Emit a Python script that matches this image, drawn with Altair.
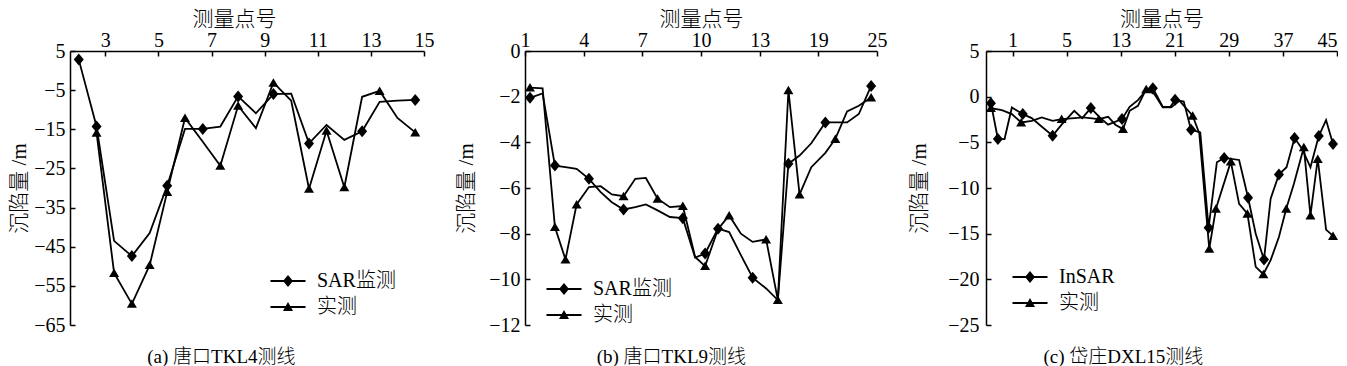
import json
import altair as alt
import pandas as pd

FONT = "Liberation Serif, Noto Sans CJK SC"

# ---------------- panel (a) 唐口TKL4测线 ----------------
a_names = ["SAR监测", "实测"]
a_sar_x = [2.0, 2.67, 3.33, 4.0, 4.67, 5.33, 6.0, 6.67, 7.33, 8.0, 8.67, 9.33, 10.0, 10.67, 11.33, 12.0, 12.67, 13.33, 14.0, 14.67]
a_sar_y = [2.8, -14.3, -43.5, -47.4, -41.5, -29.4, -14.9, -14.9, -14.3, -6.6, -10.9, -6.0, -5.9, -18.6, -13.9, -17.7, -15.5, -8.0, -7.7, -7.5]
a_sar_m = [1, 1, 0, 1, 0, 1, 0, 1, 0, 1, 0, 1, 0, 1, 0, 0, 1, 0, 0, 1]
a_meas_x = [2.67, 3.33, 4.0, 4.67, 5.33, 6.0, 6.67, 7.33, 8.0, 8.67, 9.33, 10.0, 10.67, 11.33, 12.0, 12.67, 13.33, 14.0, 14.67]
a_meas_y = [-15.9, -51.7, -59.6, -49.7, -31.0, -12.1, -18.2, -24.3, -9.0, -14.7, -3.1, -7.7, -30.2, -15.4, -29.8, -6.7, -5.2, -12.1, -15.8]
a_meas_m = [1, 1, 1, 1, 1, 1, 0, 1, 1, 0, 1, 0, 1, 1, 1, 0, 1, 0, 1]
a_xticks = [3, 5, 7, 9, 11, 13, 15]
a_yticks = [5, -5, -15, -25, -35, -45, -55, -65]

# ---------------- panel (b) 唐口TKL9测线 ----------------
b_names = ["SAR监测", "实测"]
b_x = [0.085, 0.30, 0.51, 0.69, 0.88, 1.09, 1.29, 1.48, 1.68, 1.88, 2.06, 2.26, 2.47, 2.69, 2.90,
       3.07, 3.29, 3.48, 3.68, 3.88, 4.11, 4.31, 4.49, 4.68, 4.88, 5.12, 5.29, 5.49, 5.69, 5.90]
b_sar_y = [-2.05, -1.86, -5.02, -5.09, -5.16, -5.6, -6.18, -6.62, -6.94, -6.84, -6.72, -6.98, -7.27, -7.32, -9.05,
           -8.87, -7.78, -7.93, -8.94, -9.93, -10.4, -10.91, -4.94, -4.58, -4.04, -3.13, -3.13, -3.13, -2.76, -1.53]
b_sar_m = [1, 0, 1, 0, 0, 1, 0, 0, 1, 0, 0, 0, 0, 1, 0, 1, 1, 0, 0, 1, 0, 0, 1, 0, 0, 1, 0, 0, 0, 1]
b_meas_y = [-1.60, -1.64, -7.71, -9.13, -6.72, -5.96, -5.92, -6.28, -6.36, -5.6, -5.56, -6.47, -6.84, -6.79, -9.02,
            -9.42, -7.8, -7.2, -8.0, -8.36, -8.25, -10.91, -1.72, -6.28, -5.09, -4.46, -3.85, -2.65, -2.4, -2.04]
b_meas_m = [1, 0, 1, 1, 1, 0, 0, 0, 1, 0, 0, 1, 0, 1, 0, 1, 0, 1, 0, 0, 1, 1, 1, 1, 0, 0, 1, 0, 0, 1]
b_xlabels = ["1", "4", "7", "10", "13", "19", "25"]
b_yticks = [0, -2, -4, -6, -8, -10, -12]

# ---------------- panel (c) 岱庄DXL15测线 ----------------
c_names = ["InSAR", "实测"]
c_sar_x = [-0.399, -0.270, -0.147, -0.012, 0.190, 0.356, 0.521, 0.742, 0.908, 1.141, 1.288, 1.448, 1.613, 1.767,
           2.025, 2.166, 2.319, 2.472, 2.595, 2.779, 2.920, 3.006, 3.166, 3.301, 3.472, 3.626, 3.779, 3.914,
           4.190, 4.356, 4.497, 4.650, 4.773, 4.926, 5.067, 5.215, 5.356, 5.509, 5.663, 5.798, 5.926]
c_sar_y = [-0.71, -4.64, -4.64, -1.18, -1.91, -2.35, -3.18, -4.27, -3.07, -1.55, -2.35, -1.25, -2.27, -3.07,
           -2.45, -1.11, -0.38, 0.71, 0.93, -1.11, -1.11, -0.35, -0.53, -3.62, -3.91, -14.35, -7.18, -6.71,
           -6.93, -11.07, -15.0, -17.84, -11.18, -8.53, -7.73, -4.53, -5.73, -7.73, -4.31, -2.56, -5.18]
c_sar_m = [1, 1, 0, 0, 1, 0, 0, 1, 0, 0, 0, 1, 0, 0, 1, 0, 0, 0, 1, 0, 0, 1, 0, 1, 0, 1, 0, 1, 0, 1, 0, 1, 0, 1,
           0, 1, 0, 0, 1, 0, 1]
c_meas_x = [-0.399, -0.196, -0.012, 0.160, 0.356, 0.540, 0.742, 0.908, 1.141, 1.307, 1.595, 1.767, 1.902, 2.043,
            2.166, 2.319, 2.472, 2.626, 2.779, 2.933, 3.086, 3.331, 3.454, 3.638, 3.761, 4.037, 4.190, 4.344,
            4.497, 4.638, 4.773, 4.926, 5.061, 5.202, 5.387, 5.509, 5.644, 5.798, 5.926]
c_meas_y = [-1.25, -1.47, -1.91, -2.82, -2.64, -2.27, -2.64, -2.45, -2.35, -2.27, -2.45, -2.2, -3.07, -3.55,
            -1.55, -1.0, 0.82, 0.27, -1.18, -1.18, -0.45, -2.09, -4.02, -16.64, -12.27, -7.11, -11.73, -12.82,
            -18.64, -19.44, -17.9, -15.36, -12.27, -9.55, -5.55, -13.0, -6.82, -14.56, -15.25]
c_meas_m = [1, 0, 0, 1, 0, 0, 0, 1, 0, 0, 1, 0, 0, 1, 0, 0, 1, 0, 0, 0, 0, 1, 0, 1, 1, 1, 0, 1, 0, 1, 0, 0, 1, 0,
            1, 1, 1, 0, 1]
c_xlabels = ["1", "5", "13", "21", "29", "37", "45"]
c_yticks = [5, 0, -5, -10, -15, -20, -25]

DIAMOND = "M0,-1.2L1,0L0,1.2L-1,0Z"
TRIANGLE = "M0,-0.9L1,0.8L-1,0.8Z"
# legend symbols: a thin filled bar (the line) plus the marker
LEG_D = "M-1.75,-0.09L1.75,-0.09L1.75,0.09L-1.75,0.09Z M0,-0.6L0.5,0L0,0.6L-0.5,0Z"
LEG_T = "M-1.75,-0.09L1.75,-0.09L1.75,0.09L-1.75,0.09Z M0,-0.5L0.5,0.4L-0.5,0.4Z"

H = 274


def panel(sx, sy, sm, mx, my, mm, names, xdomain, xticks, xlabels, ydomain, yticks,
          width, title, legxy, ytp, ylp, xtitle_x=None, flush=False):
    rows = []
    for x, y, m in zip(sx, sy, sm):
        rows.append({"x": x, "y": y, "s": names[0], "m": m})
    for x, y, m in zip(mx, my, mm):
        rows.append({"x": x, "y": y, "s": names[1], "m": m})
    df = pd.DataFrame(rows)
    base = alt.Chart(df)
    xs = alt.Scale(domain=xdomain, nice=False, zero=False)
    ys = alt.Scale(domain=ydomain, nice=False, zero=False)

    xkw = dict(orient="top", values=xticks, title="测量点号", titleFont=FONT, titleFontSize=21,
               titleFontWeight=300, titleColor="black", titlePadding=1,
               labelFont=FONT, labelFontSize=20, labelColor="black", labelPadding=1,
               ticks=False, tickSize=0, domainColor="black", domainWidth=1.5, grid=False,
               labelAngle=0, labelOverlap=False, labelFlush=flush)
    if xlabels is not None:
        xkw["labelExpr"] = json.dumps(xlabels) + "[round(datum.value)]"
    if xtitle_x is not None:
        xkw["titleX"] = xtitle_x
    main_x = alt.Axis(**xkw)
    main_y = alt.Axis(orient="left", values=yticks, title="沉陷量 /m", titleFont=FONT, titleFontSize=21,
                      titleFontWeight=300, titleColor="black", titlePadding=ytp,
                      labelFont=FONT, labelFontSize=20, labelColor="black", labelPadding=ylp,
                      ticks=False, tickSize=0, domainColor="black", domainWidth=1.5, grid=False,
                      labelOverlap=False)
    tick_x = alt.Axis(orient="top", values=xticks, labels=False, domain=False, title=None, ticks=True,
                      tickSize=5, tickColor="black", tickWidth=1.5, offset=-5, grid=False)
    tick_y = alt.Axis(orient="left", values=yticks, labels=False, domain=False, title=None, ticks=True,
                      tickSize=5, tickColor="black", tickWidth=1.5, offset=-5, grid=False)

    lines = base.mark_line(color="black", strokeWidth=1.8).encode(
        x=alt.X("x:Q", scale=xs, axis=main_x),
        y=alt.Y("y:Q", scale=ys, axis=main_y),
        detail="s:N",
    )
    p_sar = base.transform_filter((alt.datum.m == 1) & (alt.datum.s == names[0])).mark_point(
        shape=DIAMOND, filled=True, size=100, color="black", opacity=1).encode(
        x=alt.X("x:Q", scale=xs, axis=tick_x),
        y=alt.Y("y:Q", scale=ys, axis=tick_y),
    )
    p_meas = base.transform_filter((alt.datum.m == 1) & (alt.datum.s == names[1])).mark_point(
        shape=TRIANGLE, filled=True, size=100, color="black", opacity=1).encode(
        x=alt.X("x:Q", scale=xs, axis=None),
        y=alt.Y("y:Q", scale=ys, axis=None),
    )
    leg = base.transform_filter("false").mark_point(
        filled=True, color="black", opacity=1).encode(
        x=alt.X("x:Q", scale=xs, axis=None),
        y=alt.Y("y:Q", scale=ys, axis=None),
        shape=alt.Shape("s:N", scale=alt.Scale(domain=names, range=[LEG_D, LEG_T]),
                        legend=alt.Legend(orient="none", legendX=legxy[0], legendY=legxy[1], title=None,
                                          direction="vertical", symbolSize=400, symbolStrokeWidth=0,
                                          symbolFillColor="black", symbolOpacity=1,
                                          labelFont=FONT, labelFontSize=20, labelFontWeight=300,
                                          labelColor="black", labelOffset=19, rowPadding=6, padding=0)),
    )
    return alt.layer(lines, p_sar, p_meas, leg).resolve_axis(
        x="independent", y="independent").properties(
        width=width, height=H,
        title=alt.TitleParams(title, orient="bottom", font=FONT, fontSize=19, fontWeight=300,
                              color="black", offset=13, anchor="middle", frame="bounds"))


pa = panel(a_sar_x, a_sar_y, a_sar_m, a_meas_x, a_meas_y, a_meas_m, a_names,
           [1.67, 15], a_xticks, None, [-65, 5], a_yticks, 354, "(a)  唐口TKL4测线",
           (208, 220), 4, 5, xtitle_x=164)
pb = panel(b_x, b_sar_y, b_sar_m, b_x, b_meas_y, b_meas_m, b_names,
           [0, 6], [0, 1, 2, 3, 4, 5, 6], b_xlabels, [-12, 0], b_yticks, 352, "(b)  唐口TKL9测线",
           (29, 228), 12, 5)
pc = panel(c_sar_x, c_sar_y, c_sar_m, c_meas_x, c_meas_y, c_meas_m, c_names,
           [-0.49, 6], [0, 1, 2, 3, 4, 5, 6], c_xlabels, [-25, 5], c_yticks, 351, "(c)  岱庄DXL15测线",
           (34, 216), 18, 7, flush=True)

chart = alt.hconcat(pa, pb, pc, spacing=21).resolve_scale(shape="independent").resolve_legend(
    shape="independent").configure_view(stroke=None).properties(
    padding={"left": 0, "top": 0, "right": 0, "bottom": 0}, background="white")

chart.save("out.html", embed_options={"renderer": "svg", "actions": False})
